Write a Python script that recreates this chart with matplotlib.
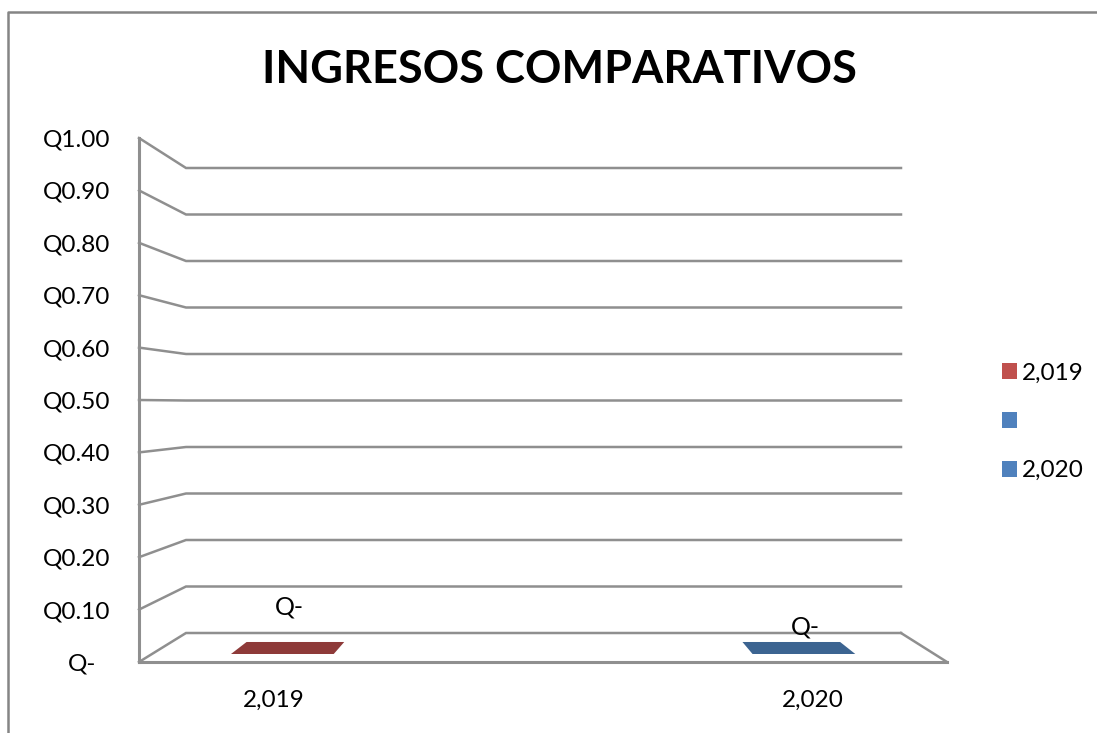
import matplotlib
matplotlib.use('Agg')
import numpy as np
from matplotlib import pyplot as plt
from matplotlib.lines import Line2D
from matplotlib.patches import Patch, Polygon
from matplotlib.transforms import ScaledTranslation

title = 'INGRESOS COMPARATIVOS'
categories = ['2,019', '', '2,020']
values = [0, np.nan, 0]
value_ticks = [0, 0.1, 0.2, 0.3, 0.4, 0.5, 0.6, 0.7, 0.8, 0.9, 1.0]
value_labels = ['Q-', 'Q0.10', 'Q0.20', 'Q0.30', 'Q0.40', 'Q0.50',
                'Q0.60', 'Q0.70', 'Q0.80', 'Q0.90', 'Q1.00']
bar_labels = ['Q-', '', 'Q-']
bar_colors = ['#8e3a39', '#4f81bd', '#3c6491']
legend_colors = ['#c0504d', '#4f81bd', '#4f81bd']

W, H = 1097, 733
GRAY = '#8f8f8f'
plt.rcParams['font.family'] = ['Lato', 'DejaVu Sans']

fig = plt.figure(figsize=(W / 100, H / 100), dpi=100)
ax = fig.add_axes([139 / W, (H - 662) / H, 808 / W, 524 / H])
ax.set_xlim(0, 3)
ax.set_ylim(0, 1)
ax.patch.set_visible(False)


# oblique projection of the excel 3d box, depth 0 = front, 1 = back wall
def project(x, v, d):
    left = 47 / 808 * 3
    right = 3 - 46 / 808 * 3
    px = x + d * (left + (right - left) * x / 3 - x)
    py = v + d * (29 / 524 + v * (465 / 524) - v)
    return px, py


for v in value_ticks:
    xs, ys = zip(project(0, v, 0), project(0, v, 1), project(3, v, 1))
    ax.plot(xs, ys, color=GRAY, lw=1.8, clip_on=False, solid_joinstyle='miter')
xs, ys = zip(project(3, 0, 1), project(3, 0, 0))
ax.plot(xs, ys, color=GRAY, lw=1.8, clip_on=False)

for i, v in enumerate(values):
    if np.isnan(v):
        continue
    x0, x1 = i + 0.5 - 0.197, i + 0.5 + 0.197
    corners = [project(x0, v, 0.276), project(x1, v, 0.276),
               project(x1, v, 0.69), project(x0, v, 0.69)]
    ax.add_patch(Polygon(corners, closed=True, facecolor=bar_colors[i], edgecolor='none'))

ax.annotate(bar_labels[0], (0.5, 0), xytext=(16, 55), textcoords='offset pixels',
            ha='center', va='center', fontsize=18, annotation_clip=False)
ax.annotate(bar_labels[2], (2.5, 0), xytext=(-7, 35), textcoords='offset pixels',
            ha='center', va='center', fontsize=18, annotation_clip=False)

ax.set_yticks(value_ticks)
ax.set_yticklabels(value_labels, fontsize=17.5, ha='center')
ax.set_xticks([0.5, 1.5, 2.5])
ax.set_xticklabels(categories, fontsize=17.5)
ax.tick_params(axis='y', length=0, pad=45)
ax.tick_params(axis='x', length=0, pad=20)

# the zero label sits a little to the right of the others
lab = ax.get_yticklabels()[0]
lab.set_transform(lab.get_transform() + ScaledTranslation(6 / 100, 0, fig.dpi_scale_trans))

for side in ['top', 'right']:
    ax.spines[side].set_visible(False)
for side in ['left', 'bottom']:
    ax.spines[side].set_color(GRAY)
    ax.spines[side].set_linewidth(2.2)

fig.text(559 / W, 1 - 70 / H, title, fontsize=32.5, fontweight='bold', ha='center', va='center')

handles = [Patch(facecolor=c, edgecolor='none') for c in legend_colors]
fig.legend(handles, ['2,019', ' ', '2,020'], loc='center left',
           bbox_to_anchor=(980 / W, 1 - 422 / H), frameon=False, fontsize=17.5,
           handlelength=0.62, handleheight=0.62, handletextpad=0.22, labelspacing=1.14)

# chart area border, cut off by the screenshot
fig.add_artist(Line2D([8 / W, 8 / W, 1], [0, 1 - 12 / H, 1 - 12 / H], color='#858585', lw=1.8))

fig.savefig('out.png', dpi=100)
